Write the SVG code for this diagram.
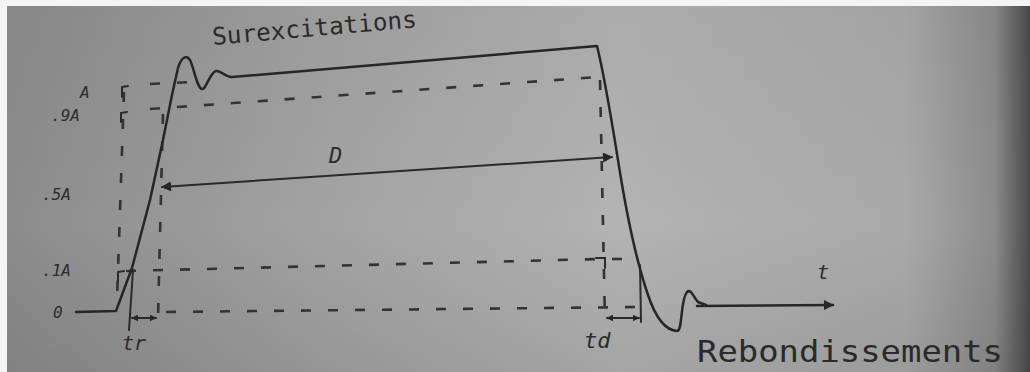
<svg xmlns="http://www.w3.org/2000/svg" width="1030" height="372" viewBox="0 0 1030 372">
<defs>
<linearGradient id="paper" x1="0" y1="0" x2="1" y2="0">
<stop offset="0" stop-color="#8c8c8c"/>
<stop offset="0.3" stop-color="#a2a2a2"/>
<stop offset="0.6" stop-color="#b3b3b3"/>
<stop offset="0.88" stop-color="#a9a9a9"/>
<stop offset="0.965" stop-color="#8c8c8c"/>
<stop offset="1" stop-color="#4a4a4a"/>
</linearGradient>
<linearGradient id="shade" x1="0" y1="0" x2="0" y2="1">
<stop offset="0" stop-color="#000" stop-opacity="0.04"/>
<stop offset="0.6" stop-color="#000" stop-opacity="0"/>
<stop offset="1" stop-color="#000" stop-opacity="0.08"/>
</linearGradient>
<marker id="ah" viewBox="0 0 10 10" refX="9" refY="5" markerWidth="7" markerHeight="7" orient="auto-start-reverse" markerUnits="userSpaceOnUse">
<path d="M0,0 L10,5 L0,10 z" fill="#262626"/>
</marker>
<marker id="ahs" viewBox="0 0 10 10" refX="9" refY="5" markerWidth="12" markerHeight="10" orient="auto-start-reverse" markerUnits="userSpaceOnUse">
<path d="M0,0 L10,5 L0,10 z" fill="#262626"/>
</marker>
</defs>
<style>
.ink{fill:none;stroke:#262626;stroke-width:2.5;stroke-linecap:round;stroke-linejoin:round}
.thin{fill:none;stroke:#2a2a2a;stroke-width:2;stroke-linecap:round}
.dash{fill:none;stroke:#333;stroke-width:2.6;stroke-dasharray:10,17}
.lbl{font-family:"DejaVu Sans Mono","Liberation Mono",monospace;font-style:oblique;fill:#2c2c2c}
.hand{font-family:"DejaVu Sans Mono","Liberation Mono",monospace;fill:#2a2a2a}
</style>
<rect x="0" y="0" width="1030" height="372" fill="#f4f4f4"/>
<rect x="7" y="6" width="1023" height="366" fill="url(#paper)"/>
<rect x="7" y="6" width="1023" height="366" fill="url(#shade)"/>

<g id="guides">
<path class="dash" d="M150,84 L194,82"/>
<path class="dash" d="M150,109 L598,77"/>
<path class="dash" d="M600,80 L605,322"/>
<path class="dash" d="M124,92 L117,300"/>
<path class="dash" d="M163,114 L158,318"/>
<path class="dash" d="M126,271 L600,259"/>
<path class="dash" d="M612,259 L636,259"/>
<path class="dash" d="M166,312 L640,307"/>
<path class="thin" d="M122,97 L122,87 L128,86"/>
<path class="thin" d="M121,122 L121,113 L127,112"/>
<path class="thin" d="M118,281 L118,272 L124,271"/>
<path class="thin" d="M596,258 L605,258 L605,268"/>
</g>

<g id="waveform">
<path class="ink" d="M76,312 L116,311 L132,268 L150,200 L163,140 L172,95 L178,68 C181,58 186,54 190,60 C194,68 197,88 202,89 C206,90 210,72 216,71 C221,70 226,78 232,77 L597,46 C603,70 610,110 618,160 C625,205 636,260 648,295 C655,316 664,330 677,331 C683,331 680,300 687,292 C691,288 694,298 698,302 L706,305"/>
</g>

<g id="connectors">
<path class="ink" d="M697,306 L833,305" marker-end="url(#ahs)"/>
<path class="thin" d="M162,187 L612,157" marker-start="url(#ahs)" marker-end="url(#ahs)"/>
<path class="thin" d="M133,270 L129,330"/>
<path class="thin" d="M132,318 L156,318" marker-start="url(#ah)" marker-end="url(#ah)"/>
<path class="thin" d="M640,265 L641,322"/>
<path class="thin" d="M607,318 L639,318" marker-start="url(#ah)" marker-end="url(#ah)"/>
</g>

<g id="labels">
<text class="lbl" x="80" y="98" font-size="16">A</text>
<text class="lbl" x="51" y="121" font-size="16">.9A</text>
<text class="lbl" x="42" y="200" font-size="16">.5A</text>
<text class="lbl" x="42" y="276" font-size="16">.1A</text>
<text class="lbl" x="53" y="318" font-size="16">0</text>
<text class="lbl" x="329" y="163" font-size="22">D</text>
<text class="lbl" x="817" y="279" font-size="20">t</text>
<text class="lbl" x="122" y="350" font-size="20">tr</text>
<text class="lbl" x="584" y="348" font-size="22">td</text>
<text class="hand" x="213" y="45" font-size="24" textLength="205" lengthAdjust="spacingAndGlyphs" transform="rotate(-5 213 45)">Surexcitations</text>
<text class="hand" x="697" y="362" font-size="30" textLength="306" lengthAdjust="spacingAndGlyphs">Rebondissements</text>
</g>
</svg>
